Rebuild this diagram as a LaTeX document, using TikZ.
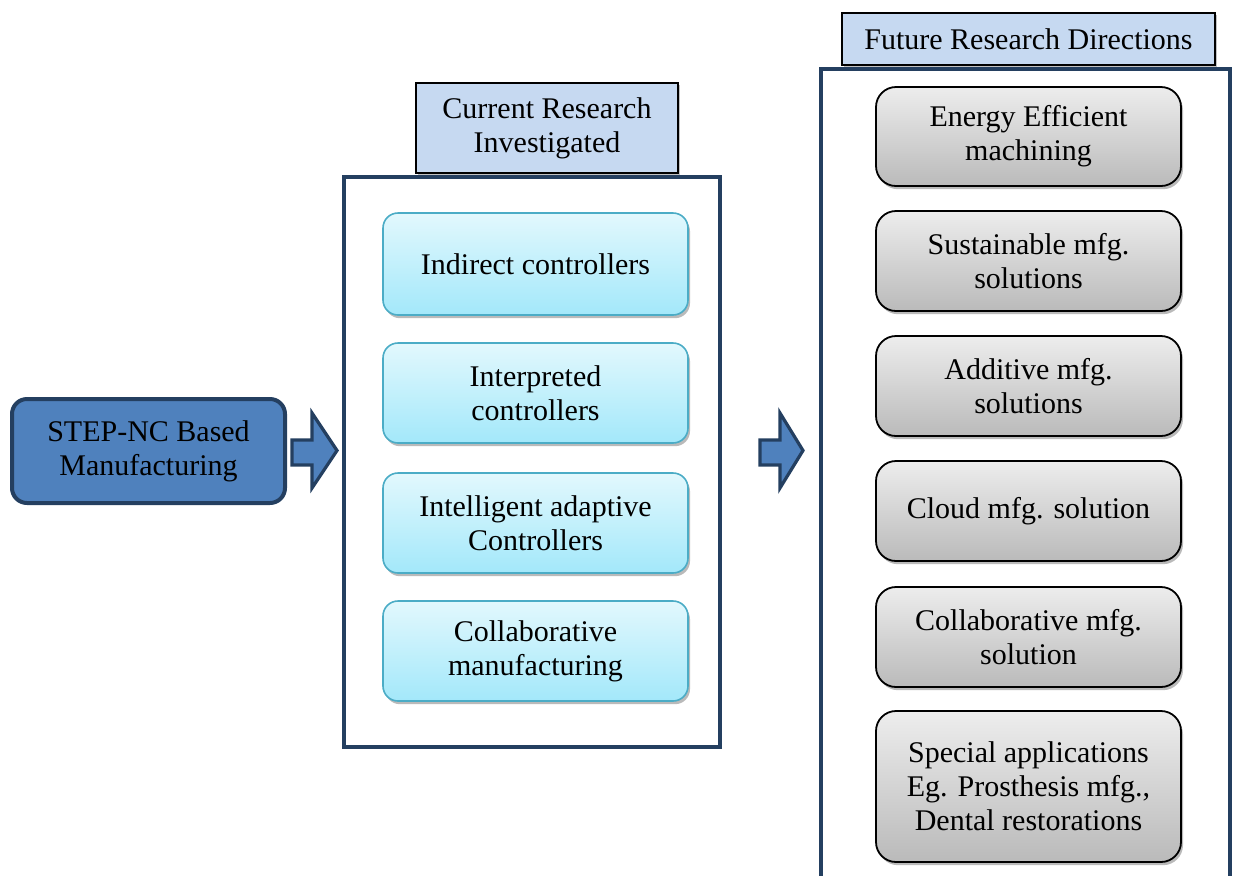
\documentclass[tikz,border=0pt]{standalone}
\usepackage{fontspec}
\setmainfont{Liberation Serif}
\usetikzlibrary{shadows}
\definecolor{stepblue}{HTML}{4F81BD}
\definecolor{darkframe}{HTML}{243F60}
\definecolor{titlefill}{HTML}{C6D9F1}
\definecolor{cyantop}{HTML}{E2F8FD}
\definecolor{cyanbot}{HTML}{A3E8FA}
\definecolor{cyanline}{HTML}{4BACC6}
\definecolor{greytop}{HTML}{EDEDED}
\definecolor{greybot}{HTML}{BABABA}
\tikzset{
  every node/.style={font=\fontsize{15}{17}\selectfont, align=center, inner sep=2pt},
  stepbox/.style={draw=darkframe, line width=2pt, fill=stepblue, rounded corners=7.5pt,
     minimum width=136.5pt, minimum height=52pt},
  titlebox/.style={draw=black, line width=0.6pt, fill=titlefill,
     drop shadow={shadow xshift=0.8pt, shadow yshift=-0.8pt, fill=black!40, opacity=0.6}},
  curbox/.style={draw=cyanline, line width=0.8pt, rounded corners=7.5pt,
     top color=cyantop, bottom color=cyanbot,
     minimum width=152.5pt, minimum height=50pt,
     drop shadow={shadow xshift=1pt, shadow yshift=-1.6pt, fill=black!45, opacity=0.6}},
  futbox/.style={draw=black, line width=0.9pt, rounded corners=10pt,
     top color=greytop, bottom color=greybot,
     minimum width=152.5pt, minimum height=50pt,
     drop shadow={shadow xshift=1pt, shadow yshift=-1.6pt, fill=black!45, opacity=0.6}},
  frame/.style={draw=darkframe, line width=2pt},
  blockarrow/.style={draw=darkframe, line width=1.6pt, fill=stepblue, line join=miter},
}
\begin{document}
\begin{tikzpicture}[x=0.5pt, y=-0.5pt]
\useasboundingbox (0,0) rectangle (1233,875);

% left box
\node[stepbox] (step) at (148.5,451) {STEP-NC Based\\Manufacturing};

% arrow 1
\draw[blockarrow] (292,440) -- (312,440) -- (312,413) -- (337,450.5) -- (312,488) -- (312,465) -- (292,465) -- cycle;

% current research frame
\draw[frame] (344,177) rectangle (720,747);
\node[titlebox, minimum width=131pt, minimum height=45pt] (curtitle) at (547,128) {Current Research\\Investigated};

\node[curbox, minimum height=51pt] (c1) at (535.5,264) {Indirect controllers};
\node[curbox] (c2) at (535.5,393) {Interpreted\\controllers};
\node[curbox] (c3) at (535.5,523) {Intelligent adaptive\\Controllers};
\node[curbox] (c4) at (535.5,651) {Collaborative\\manufacturing};

% arrow 2
\draw[blockarrow] (760,440) -- (780,440) -- (780,413) -- (803,450.5) -- (780,488) -- (780,465) -- (760,465) -- cycle;

% future frame (open at bottom)
\draw[frame] (821,880) -- (821,69) -- (1230,69) -- (1230,880);
\node[titlebox, minimum width=186.5pt, minimum height=26pt] (futtitle) at (1028.5,39) {Future Research Directions};

\node[futbox, minimum height=49.5pt] (f1) at (1028.5,136.5) {Energy Efficient\\machining};
\node[futbox] (f2) at (1028.5,261) {Sustainable mfg.\\solutions};
\node[futbox] (f3) at (1028.5,386) {Additive mfg.\\solutions};
\node[futbox] (f4) at (1028.5,511) {Cloud mfg. solution};
\node[futbox] (f5) at (1028.5,637) {Collaborative mfg.\\solution};
\node[futbox, minimum height=75.5pt] (f6) at (1028.5,786.5) {Special applications\\Eg. Prosthesis mfg.,\\Dental restorations};
\end{tikzpicture}
\end{document}
